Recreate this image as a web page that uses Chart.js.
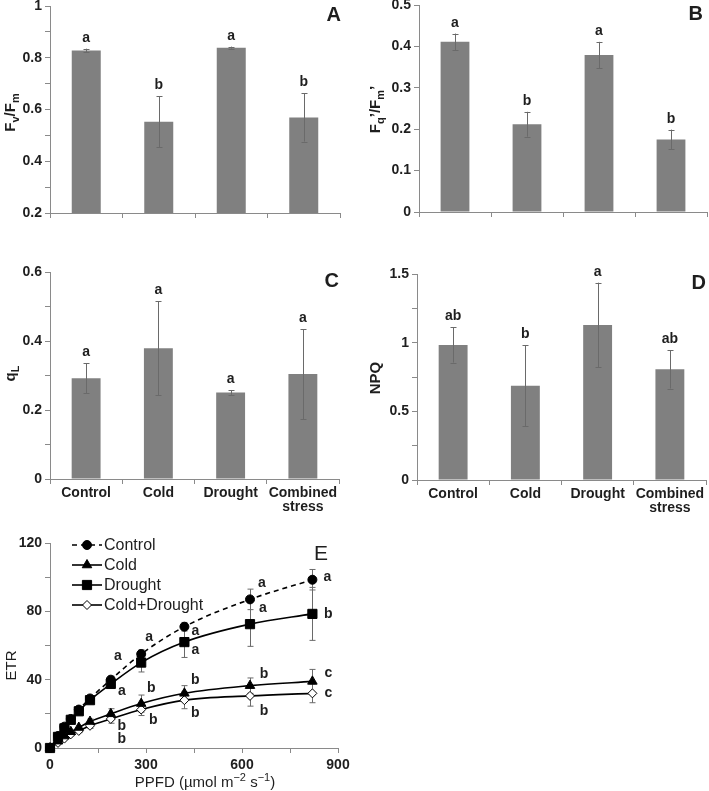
<!DOCTYPE html>
<html>
<head>
<meta charset="utf-8">
<script src="https://cdn.jsdelivr.net/npm/chart.js@4.4.0/dist/chart.umd.min.js"></script>
<style>
  html, body { margin: 0; padding: 0; background: #fff; }
  #wrap { position: relative; width: 709px; height: 791px; overflow: hidden; }
  canvas { position: absolute; }
</style>
</head>
<body>
<div id="wrap"></div>
<script>
// treatments (x axis of the bar panels)
const treatments = ['Control', 'Cold', 'Drought', ['Combined', 'stress']];

// A : Fv/Fm
const fvfmMean = [0.828, 0.553, 0.839, 0.569];
const fvfmErr = [0.007, 0.099, 0.004, 0.093];
const fvfmLetters = ['a', 'b', 'a', 'b'];

// B : Fq'/Fm'
const fqfmMean = [0.411, 0.212, 0.379, 0.175];
const fqfmErr = [0.020, 0.030, 0.032, 0.024];
const fqfmLetters = ['a', 'b', 'a', 'b'];

// C : qL
const qlMean = [0.292, 0.379, 0.251, 0.304];
const qlErr = [0.044, 0.136, 0.007, 0.130];
const qlLetters = ['a', 'a', 'a', 'a'];

// D : NPQ
const npqMean = [0.983, 0.687, 1.129, 0.806];
const npqErr = [0.128, 0.296, 0.308, 0.140];
const npqLetters = ['ab', 'b', 'a', 'ab'];

// E : ETR light curves
const ppfd = [0, 25, 45, 65, 90, 125, 190, 285, 420, 625, 820];
const etrControl = [0, 7, 12.5, 17, 22.5, 29, 40, 55, 71, 87, 98.5];
const etrCold = [0, 4, 7, 9.5, 12, 15.5, 20, 26, 32, 36.5, 39];
const etrDrought = [0, 6.5, 11.5, 16.5, 21.5, 28, 37.5, 50, 62, 72.5, 78.5];
const etrCombined = [0, 3, 5.5, 8, 10, 13, 17, 22.5, 28, 30.5, 32];
const errControl = [0, 0.5, 0.8, 1, 1, 1.5, 2, 2.5, 2.5, 6, 6];
const errCold = [0, 0.3, 0.5, 0.8, 1, 1.5, 3, 5, 4.5, 4.5, 7];
const errDrought = [0, 0.5, 0.8, 1, 1, 1.5, 2, 5.5, 9, 13, 15.5];
const errCombined = [0, 0.3, 0.5, 0.8, 1, 1.5, 2.5, 3.5, 5, 6, 5.5];
const lettersControl = [null, null, null, null, null, null, 'a', 'a', 'a', 'a', 'a'];
const lettersCold = [null, null, null, null, null, null, 'b', 'b', 'b', 'b', 'c'];
const lettersDrought = [null, null, null, null, null, null, 'a', null, 'a', 'a', 'b'];
const lettersCombined = [null, null, null, null, null, null, 'b', 'b', 'b', 'b', 'c'];

const FONT = '"Liberation Sans", Arial, sans-serif';
const TEXT = '#1e1e1e';
const AXIS = '#8a8a8a';
const ERRC = '#6a6a6a';

const wrap = document.getElementById('wrap');

function makeCanvas(left, top, w, h) {
  const c = document.createElement('canvas');
  c.width = w; c.height = h;
  c.style.left = left + 'px'; c.style.top = top + 'px';
  c.style.width = w + 'px'; c.style.height = h + 'px';
  wrap.appendChild(c);
  return c;
}

// text with sub/superscripts, centred on (x, y)
function drawRich(ctx, parts, x, y, size, weight, rotate) {
  ctx.save();
  ctx.translate(x, y);
  if (rotate) ctx.rotate(-Math.PI / 2);
  const fontFor = p => weight + ' ' + (p.sub || p.sup ? Math.round(size * 0.7) : size) + 'px ' + FONT;
  let total = 0;
  parts.forEach(p => { ctx.font = fontFor(p); total += ctx.measureText(p.t).width; });
  let cx = -total / 2;
  ctx.textBaseline = 'middle';
  ctx.textAlign = 'left';
  ctx.fillStyle = TEXT;
  parts.forEach(p => {
    ctx.font = fontFor(p);
    const dy = p.sub ? size * 0.3 : p.sup ? -size * 0.35 : 0;
    ctx.fillText(p.t, cx, dy);
    cx += ctx.measureText(p.t).width;
  });
  ctx.restore();
}

function fmt(v) { return String(parseFloat(v.toFixed(2))); }

function yAxis(min, max, step, every, width, size) {
  return {
    min: min, max: max,
    afterFit: s => { s.width = width; },
    border: { display: true, color: AXIS, width: 1 },
    grid: { drawOnChartArea: false, drawTicks: true, tickLength: 5, color: AXIS },
    ticks: {
      stepSize: step, autoSkip: false, padding: 3, color: TEXT,
      font: { family: FONT, size: size, weight: 'bold' },
      callback: v => {
        const r = v / every;
        return Math.abs(r - Math.round(r)) < 1e-6 ? fmt(v) : '';
      }
    }
  };
}

// one bar panel: box = [left, top, right, bottom] of the plot area in page pixels
function barPanel(p) {
  const padTop = 12;
  const [L, T, R, B] = p.box;
  const w = p.canvasW;
  const h = padTop + (B - T) + p.xAxisH;
  const canvas = makeCanvas(p.canvasLeft, T - padTop, w, h);

  const decor = {
    id: 'decor' + p.tag,
    afterDatasetsDraw(chart) {
      const ctx = chart.ctx;
      const ys = chart.scales.y;
      const meta = chart.getDatasetMeta(0);
      ctx.save();
      ctx.strokeStyle = ERRC;
      ctx.lineWidth = 1;
      meta.data.forEach((bar, i) => {
        const top = ys.getPixelForValue(p.values[i] + p.errors[i]);
        const bot = ys.getPixelForValue(p.values[i] - p.errors[i]);
        const x = Math.round(bar.x) + 0.5;
        ctx.beginPath();
        ctx.moveTo(x, top); ctx.lineTo(x, bot);
        ctx.moveTo(x - 3, Math.round(top) + 0.5); ctx.lineTo(x + 3, Math.round(top) + 0.5);
        ctx.moveTo(x - 3, Math.round(bot) + 0.5); ctx.lineTo(x + 3, Math.round(bot) + 0.5);
        ctx.stroke();
        ctx.fillStyle = TEXT;
        ctx.font = 'bold 14px ' + FONT;
        ctx.textAlign = 'center';
        ctx.textBaseline = 'alphabetic';
        ctx.fillText(p.letters[i], bar.x, top - 7);
      });
      // panel tag
      const area = chart.chartArea;
      ctx.font = 'bold 20px ' + FONT;
      ctx.textAlign = 'right';
      ctx.fillText(p.tag, area.right + p.tagDx, area.top + 15);
      ctx.restore();
      drawRich(ctx, p.yTitle, p.titleX, (area.top + area.bottom) / 2 + p.titleDy, 15, 'bold', true);
    }
  };

  new Chart(canvas, {
    type: 'bar',
    data: {
      labels: treatments,
      datasets: [{
        data: p.values,
        backgroundColor: '#808080',
        borderWidth: 0,
        barPercentage: 0.4,
        categoryPercentage: 1
      }]
    },
    options: {
      responsive: false,
      animation: false,
      devicePixelRatio: 1,
      events: [],
      layout: { padding: { top: padTop, right: w - (R - p.canvasLeft), left: 0, bottom: 0 } },
      plugins: { legend: { display: false }, tooltip: { enabled: false } },
      scales: {
        x: {
          afterFit: s => { s.height = p.xAxisH; },
          border: { display: true, color: AXIS, width: 1 },
          grid: { drawOnChartArea: false, drawTicks: true, tickLength: 5, color: AXIS, offset: true },
          ticks: {
            display: p.showX, padding: 2, color: TEXT, maxRotation: 0, autoSkip: false,
            font: { family: FONT, size: 14, weight: 'bold', lineHeight: 1.0 }
          }
        },
        y: yAxis(p.yMin, p.yMax, p.step, p.every, L - p.canvasLeft, 14)
      }
    },
    plugins: [decor]
  });
}

barPanel({
  tag: 'A', canvasLeft: 0, canvasW: 348, box: [50, 6, 340, 213], xAxisH: 20, showX: false,
  values: fvfmMean, errors: fvfmErr, letters: fvfmLetters,
  yMin: 0.2, yMax: 1, step: 0.1, every: 0.2, tagDx: 1,
  yTitle: [{ t: 'F' }, { t: 'v', sub: 1 }, { t: '/F' }, { t: 'm', sub: 1 }], titleX: 11, titleDy: 3
});
barPanel({
  tag: 'B', canvasLeft: 355, canvasW: 354, box: [419, 5, 707, 212], xAxisH: 20, showX: false,
  values: fqfmMean, errors: fqfmErr, letters: fqfmLetters,
  yMin: 0, yMax: 0.5, step: 0.1, every: 0.1, tagDx: -4,
  yTitle: [{ t: 'F' }, { t: 'q', sub: 1 }, { t: '’/F' }, { t: 'm', sub: 1 }, { t: '’' }], titleX: 376 - 355, titleDy: 1
});
barPanel({
  tag: 'C', canvasLeft: 0, canvasW: 348, box: [50, 272, 339, 479], xAxisH: 34, showX: true,
  values: qlMean, errors: qlErr, letters: qlLetters,
  yMin: 0, yMax: 0.6, step: 0.1, every: 0.2, tagDx: 0,
  yTitle: [{ t: 'q' }, { t: 'L', sub: 1 }], titleX: 11, titleDy: -2
});
barPanel({
  tag: 'D', canvasLeft: 355, canvasW: 354, box: [417, 274, 706, 480], xAxisH: 34, showX: true,
  values: npqMean, errors: npqErr, letters: npqLetters,
  yMin: 0, yMax: 1.5, step: 0.25, every: 0.5, tagDx: 0,
  yTitle: [{ t: 'NPQ' }], titleX: 376 - 355, titleDy: 1
});

// ---- panel E ----
(function () {
  const padTop = 12;
  const L = 50, T = 543, R = 338, B = 748;
  const w = 370, xAxisH = 791 - B;
  const canvas = makeCanvas(0, T - padTop, w, padTop + (B - T) + xAxisH);

  const series = [
    { label: 'Control', y: etrControl, err: errControl, letters: lettersControl,
      style: 'circle', radius: 4.5, fill: '#000', dash: [5, 4],
      offs: [null, null, null, null, null, null, [7, -24], [8, -17], [11, 4], [12, -16], [15, -3]] },
    { label: 'Cold', y: etrCold, err: errCold, letters: lettersCold,
      style: 'triangle', radius: 5.5, fill: '#000', dash: [],
      offs: [null, null, null, null, null, null, [11, 12], [10, -15], [11, -13], [14, -12], [16, -8]] },
    { label: 'Drought', y: etrDrought, err: errDrought, letters: lettersDrought,
      style: 'rect', radius: 6.5, fill: '#000', dash: [],
      offs: [null, null, null, null, null, null, [11, 7], null, [11, 8], [13, -16], [16, 0]] },
    { label: 'Cold+Drought', y: etrCombined, err: errCombined, letters: lettersCombined,
      style: 'rectRot', radius: 4.5, fill: '#fff', dash: [],
      offs: [null, null, null, null, null, null, [11, 20], [12, 11], [11, 13], [14, 15], [16, 0]] }
  ];

  const decorE = {
    id: 'decorE',
    beforeDatasetsDraw(chart) {
      const ctx = chart.ctx;
      const xs = chart.scales.x, ys = chart.scales.y;
      ctx.save();
      ctx.strokeStyle = ERRC;
      ctx.lineWidth = 1;
      series.forEach(s => {
        s.y.forEach((v, i) => {
          if (!s.err[i]) return;
          const x = Math.round(xs.getPixelForValue(ppfd[i])) + 0.5;
          const top = ys.getPixelForValue(v + s.err[i]);
          const bot = ys.getPixelForValue(v - s.err[i]);
          ctx.beginPath();
          ctx.moveTo(x, top); ctx.lineTo(x, bot);
          ctx.moveTo(x - 3, top); ctx.lineTo(x + 3, top);
          ctx.moveTo(x - 3, bot); ctx.lineTo(x + 3, bot);
          ctx.stroke();
        });
      });
      ctx.restore();
    },
    afterDatasetsDraw(chart) {
      const ctx = chart.ctx;
      const area = chart.chartArea;
      ctx.save();
      ctx.fillStyle = TEXT;
      ctx.font = 'bold 14px ' + FONT;
      ctx.textAlign = 'center';
      ctx.textBaseline = 'middle';
      series.forEach((s, di) => {
        const meta = chart.getDatasetMeta(di);
        s.letters.forEach((t, i) => {
          if (!t) return;
          const pt = meta.data[i];
          ctx.fillText(t, pt.x + s.offs[i][0], pt.y + s.offs[i][1]);
        });
      });
      // legend
      series.forEach((s, i) => {
        const y = 545 - (T - padTop) + i * 20;
        ctx.strokeStyle = '#000';
        ctx.lineWidth = 1.6;
        ctx.setLineDash(s.dash);
        ctx.beginPath(); ctx.moveTo(72, y); ctx.lineTo(102, y); ctx.stroke();
        ctx.setLineDash([]);
        ctx.fillStyle = s.fill;
        ctx.strokeStyle = '#000';
        ctx.lineWidth = 1;
        Chart.helpers.drawPoint(ctx, { pointStyle: s.style, radius: s.radius, borderWidth: 1, rotation: 0 }, 87, y);
        ctx.fillStyle = TEXT;
        ctx.font = '16px ' + FONT;
        ctx.textAlign = 'left';
        ctx.fillText(s.label, 104, y + 1);
      });
      // tag
      ctx.font = '21px ' + FONT;
      ctx.textAlign = 'right';
      ctx.textBaseline = 'alphabetic';
      ctx.fillText('E', area.right - 10, area.top + 17);
      ctx.restore();
      drawRich(ctx, [{ t: 'ETR' }], 12, (area.top + area.bottom) / 2 + 20, 15, 'normal', true);
      drawRich(ctx, [{ t: 'PPFD (µmol m' }, { t: '−2', sup: 1 }, { t: ' s' }, { t: '−1', sup: 1 }, { t: ')' }],
        205, 783 - (T - padTop), 15, 'normal', false);
    }
  };

  new Chart(canvas, {
    type: 'line',
    data: {
      datasets: series.map(s => ({
        label: s.label,
        data: ppfd.map((x, i) => ({ x: x, y: s.y[i] })),
        borderColor: '#000',
        borderWidth: 1.6,
        borderDash: s.dash,
        pointStyle: s.style,
        pointRadius: s.radius,
        pointBackgroundColor: s.fill,
        pointBorderColor: '#000',
        pointBorderWidth: 1,
        cubicInterpolationMode: 'monotone',
        fill: false,
        clip: false
      }))
    },
    options: {
      responsive: false,
      animation: false,
      devicePixelRatio: 1,
      events: [],
      layout: { padding: { top: padTop, right: w - R, left: 0, bottom: 0 } },
      plugins: { legend: { display: false }, tooltip: { enabled: false } },
      scales: {
        x: {
          type: 'linear', min: 0, max: 900,
          afterFit: s => { s.height = xAxisH; },
          border: { display: true, color: AXIS, width: 1 },
          grid: { drawOnChartArea: false, drawTicks: true, tickLength: 5, color: AXIS },
          ticks: {
            stepSize: 150, autoSkip: false, padding: 4, color: TEXT, maxRotation: 0,
            font: { family: FONT, size: 14, weight: 'bold' },
            callback: v => (v % 300 === 0 ? String(v) : '')
          }
        },
        y: yAxis(0, 120, 20, 40, L, 14)
      }
    },
    plugins: [decorE]
  });
})();
</script>
</body>
</html>
